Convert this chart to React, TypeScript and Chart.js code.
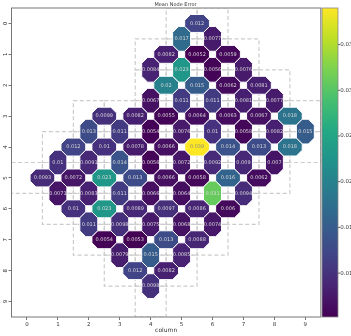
import React, { useEffect, useRef } from "react";
import { Chart, registerables } from "chart.js";

Chart.register(...registerables);

// ---- data ----
const titleText = "Mean Node Error";
const xAxisLabel = "column";
const tickLabels = ["0", "1", "2", "3", "4", "5", "6", "7", "8", "9"];
const colorbarTicks = [0.01, 0.015, 0.02, 0.025, 0.03, 0.035];

// row position (y) and x of the first cell in that row; cells step by 1 in x
const rowY = [0, 0.5, 1, 1.5, 2, 2.5, 3, 3.5, 4, 4.5, 5, 5.5, 6, 6.5, 7, 7.5, 8, 8.5];
const rowStartX = [5.5, 5, 4.5, 4, 4.5, 4, 2.5, 2, 1.5, 1, 0.5, 1, 1.5, 2, 2.5, 3, 3.5, 4];

const row00 = [0.012];
const row01 = [0.017, 0.0077];
const row02 = [0.0082, 0.0052, 0.0059];
const row03 = [0.0084, 0.023, 0.0056, 0.0076];
const row04 = [0.02, 0.015, 0.0062, 0.0081];
const row05 = [0.0067, 0.011, 0.011, 0.0081, 0.0077];
const row06 = [0.0099, 0.0082, 0.0055, 0.0064, 0.0063, 0.0067, 0.018];
const row07 = [0.013, 0.011, 0.0054, 0.0076, 0.01, 0.0058, 0.0082, 0.015];
const row08 = [0.012, 0.01, 0.0078, 0.0066, 0.039, 0.014, 0.013, 0.018];
const row09 = [0.01, 0.0091, 0.014, 0.0056, 0.0072, 0.0092, 0.009, 0.007];
const row10 = [0.0093, 0.0072, 0.023, 0.013, 0.0066, 0.0058, 0.016, 0.0062];
const row11 = [0.0071, 0.0083, 0.011, 0.0066, 0.0064, 0.031, 0.0094];
const row12 = [0.01, 0.023, 0.0089, 0.0097, 0.0086, 0.006];
const row13 = [0.011, 0.0098, 0.0075, 0.0068, 0.0074];
const row14 = [0.0054, 0.0053, 0.013, 0.0088];
const row15 = [0.0079, 0.015, 0.0085];
const row16 = [0.012, 0.0082];
const row17 = [0.0098];

const rowValues = [row00, row01, row02, row03, row04, row05, row06, row07, row08,
  row09, row10, row11, row12, row13, row14, row15, row16, row17];

type Cell = { x: number; y: number; v: number };

const cells: Cell[] = rowValues.flatMap((vals, r) =>
  vals.map((v, k) => ({ x: rowStartX[r] + k, y: rowY[r], v }))
);
const allVals = cells.map((c) => c.v);
const vmin = Math.min(...allVals);
const vmax = Math.max(...allVals);

// ---- colormap (viridis) ----
const VIRIDIS = ["#440154", "#482475", "#414487", "#355f8d", "#2a788e", "#21918c",
  "#22a884", "#44bf70", "#7ad151", "#bddf26", "#fde725"];
function hexToRgb(h: string) {
  return [parseInt(h.slice(1, 3), 16), parseInt(h.slice(3, 5), 16), parseInt(h.slice(5, 7), 16)];
}
function viridis(t: number) {
  t = Math.max(0, Math.min(1, t));
  const s = t * 10;
  const i = Math.min(9, Math.floor(s));
  const f = s - i;
  const a = hexToRgb(VIRIDIS[i]);
  const b = hexToRgb(VIRIDIS[i + 1]);
  const c = a.map((av, j) => Math.round(av + (b[j] - av) * f));
  return `rgb(${c[0]},${c[1]},${c[2]})`;
}

const FONT = "'DejaVu Sans', sans-serif";
const HALF_SHORT = 0.29; // half size across the short direction
const HALF_LONG = 0.4; // half size along the long direction

const somPlugin = {
  id: "som",
  beforeDatasetsDraw(chart: any) {
    const { ctx, chartArea, scales } = chart;
    const xs = scales.x;
    const ys = scales.y;
    const pts = chart.data.datasets[0].data as Cell[];
    const px = (x: number) => xs.getPixelForValue(x);
    const py = (y: number) => ys.getPixelForValue(y);

    // dashed squares around the nodes
    const squares = new Set<string>();
    for (const p of pts) {
      if (Number.isInteger(p.y)) {
        squares.add(`${p.x - 0.5},${p.y}`);
        squares.add(`${p.x + 0.5},${p.y}`);
      } else {
        squares.add(`${p.x},${p.y - 0.5}`);
        squares.add(`${p.x},${p.y + 0.5}`);
      }
    }
    ctx.save();
    ctx.beginPath();
    ctx.rect(chartArea.left, chartArea.top, chartArea.right - chartArea.left, chartArea.bottom - chartArea.top);
    ctx.clip();
    ctx.setLineDash([4, 2.5]);
    ctx.strokeStyle = "#cccccc";
    ctx.lineWidth = 1.2;
    squares.forEach((k) => {
      const [cx, cy] = k.split(",").map(Number);
      ctx.beginPath();
      ctx.rect(px(cx - 0.5), py(cy - 0.5), px(cx + 0.5) - px(cx - 0.5), py(cy + 0.5) - py(cy - 0.5));
      ctx.stroke();
    });
    ctx.setLineDash([]);

    // octagons
    for (const p of pts) {
      const horiz = Number.isInteger(p.y);
      const a = HALF_SHORT;
      const b = HALF_LONG;
      let poly: [number, number][] = [
        [-(0.5 - a), -a], [0.5 - a, -a], [b, -(0.5 - b)], [b, 0.5 - b],
        [0.5 - a, a], [-(0.5 - a), a], [-b, 0.5 - b], [-b, -(0.5 - b)],
      ];
      if (!horiz) poly = poly.map(([dx, dy]) => [dy, dx]);
      ctx.beginPath();
      poly.forEach(([dx, dy], i) => {
        const X = px(p.x + dx);
        const Y = py(p.y + dy);
        if (i === 0) ctx.moveTo(X, Y);
        else ctx.lineTo(X, Y);
      });
      ctx.closePath();
      ctx.fillStyle = viridis((p.v - vmin) / (vmax - vmin));
      ctx.fill();
      ctx.strokeStyle = "#ffffff";
      ctx.lineWidth = 1;
      ctx.stroke();
    }
    ctx.font = `5px ${FONT}`;
    ctx.textAlign = "center";
    ctx.textBaseline = "middle";
    for (const p of pts) {
      const t = (p.v - vmin) / (vmax - vmin);
      ctx.fillStyle = t > 0.85 ? "#8f8f7a" : "#d8d8d8";
      ctx.fillText(String(p.v), px(p.x), py(p.y));
    }
    ctx.restore();
  },
  afterDraw(chart: any) {
    const { ctx, chartArea, scales } = chart;
    ctx.save();
    ctx.strokeStyle = "#777";
    ctx.lineWidth = 1;
    ctx.strokeRect(chartArea.left, chartArea.top, chartArea.right - chartArea.left, chartArea.bottom - chartArea.top);

    const cb = scales.cb;
    const top = cb.getPixelForValue(vmax);
    const bottom = cb.getPixelForValue(vmin);
    const x0 = cb.left + 1.2;
    const w = 16;
    const g = ctx.createLinearGradient(0, bottom, 0, top);
    VIRIDIS.forEach((c, i) => g.addColorStop(i / (VIRIDIS.length - 1), c));
    ctx.fillStyle = g;
    ctx.fillRect(x0, top, w, bottom - top);
    ctx.strokeStyle = "#888";
    ctx.lineWidth = 0.8;
    ctx.strokeRect(x0, top, w, bottom - top);
    ctx.strokeStyle = "#444";
    for (const t of colorbarTicks) {
      const y = cb.getPixelForValue(t);
      ctx.beginPath();
      ctx.moveTo(x0 + w, y);
      ctx.lineTo(x0 + w + 2, y);
      ctx.stroke();
    }
    ctx.restore();
  },
};

export default function App() {
  const ref = useRef<HTMLCanvasElement | null>(null);
  useEffect(() => {
    if (!ref.current) return;
    const tickFont = { size: 5.5, family: FONT };
    const chart = new Chart(ref.current, {
      type: "scatter",
      data: {
        datasets: [
          { data: cells as any, pointRadius: 0, pointHoverRadius: 0, showLine: false },
        ],
      },
      options: {
        animation: false,
        responsive: false,
        devicePixelRatio: 1,
        events: [],
        layout: { padding: 0 },
        plugins: {
          legend: { display: false },
          tooltip: { enabled: false },
          title: {
            display: true,
            text: titleText,
            color: "#333",
            font: { size: 5, family: FONT, weight: "normal" },
            padding: { top: 2, bottom: 0 },
          },
        },
        scales: {
          x: {
            type: "linear",
            position: "bottom",
            min: -0.5,
            max: 9.5,
            afterBuildTicks: (s: any) => {
              s.ticks = tickLabels.map((_, i) => ({ value: i }));
            },
            ticks: {
              autoSkip: false,
              maxRotation: 0,
              minRotation: 0,
              padding: 1.5,
              color: "#333",
              font: tickFont,
              callback: (_v: any, i: number) => tickLabels[i],
            },
            grid: { drawOnChartArea: false, drawTicks: true, tickLength: 3, color: "#555", lineWidth: 0.8 },
            border: { display: false },
            title: {
              display: true,
              text: xAxisLabel,
              color: "#333",
              font: { size: 6, family: FONT },
              padding: { top: 0, bottom: 2.4 },
            },
            afterFit: (s: any) => {
              s.height = 19;
            },
          },
          y: {
            type: "linear",
            position: "left",
            min: -0.5,
            max: 9.5,
            reverse: true,
            afterBuildTicks: (s: any) => {
              s.ticks = tickLabels.map((_, i) => ({ value: i }));
            },
            ticks: {
              autoSkip: false,
              minRotation: 90,
              maxRotation: 90,
              crossAlign: "center",
              padding: 1,
              color: "#333",
              font: tickFont,
              callback: (_v: any, i: number) => tickLabels[i],
            },
            grid: { drawOnChartArea: false, drawTicks: true, tickLength: 3, color: "#555", lineWidth: 0.8 },
            border: { display: false },
            afterFit: (s: any) => {
              s.width = 11.5;
            },
          },
          cb: {
            type: "linear",
            position: "right",
            min: vmin,
            max: vmax,
            afterBuildTicks: (s: any) => {
              s.ticks = colorbarTicks.map((v) => ({ value: v }));
            },
            ticks: {
              padding: 1,
              color: "#333",
              font: tickFont,
              callback: (v: any) => Number(v).toFixed(3),
            },
            grid: { display: false, drawTicks: true, tickLength: 18.5 },
            border: { display: false },
            afterFit: (s: any) => {
              s.width = 30.2;
            },
          },
        },
      } as any,
      plugins: [somPlugin],
    });
    return () => chart.destroy();
  }, []);

  return (
    <div
      style={{
        position: "fixed",
        left: 0,
        top: 0,
        width: 351,
        height: 336,
        overflow: "hidden",
        background: "#fff",
      }}
    >
      <canvas ref={ref} width={351} height={336} style={{ width: 351, height: 336, display: "block" }} />
    </div>
  );
}
